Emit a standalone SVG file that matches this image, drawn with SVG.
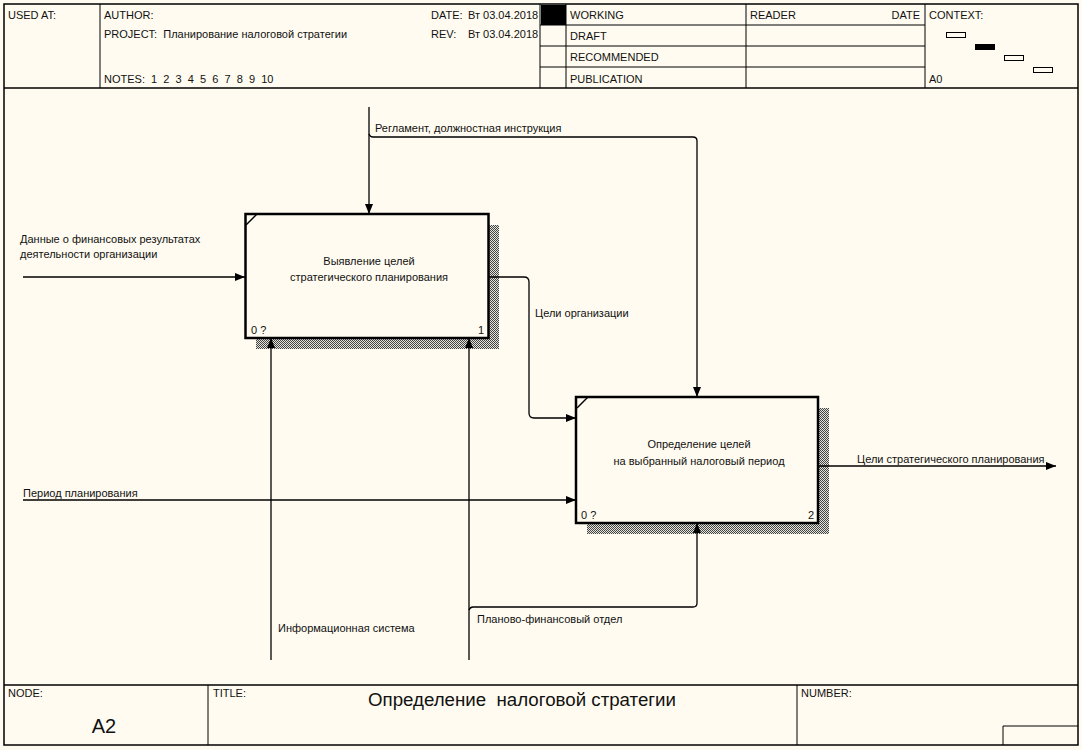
<svg xmlns="http://www.w3.org/2000/svg" width="1082" height="750" viewBox="0 0 1082 750">
<defs>
<style>
text{font-family:"Liberation Sans",Arial,sans-serif;font-size:11px;fill:#111}
.ft{font-size:11px}
.fr{fill:none;stroke:#000;stroke-width:1}
.box{fill:#fffbf0;stroke:#000;stroke-width:2.5}
.sh{fill:url(#hatch)}
.ar{fill:none;stroke:#000;stroke-width:1.3}
.ctx{fill:none;stroke:#000;stroke-width:1}
</style>
<pattern id="hatch" width="2" height="2" patternUnits="userSpaceOnUse">
<rect width="2" height="2" fill="#e4e4dc"/>
<rect x="0" y="0" width="1" height="1" fill="#444"/>
<rect x="1" y="1" width="1" height="1" fill="#444"/>
</pattern>
<marker id="ah" viewBox="0 0 10 8" refX="10" refY="4" markerWidth="10" markerHeight="8" markerUnits="userSpaceOnUse" orient="auto">
<path d="M0,0 L10,4 L0,8 Z" fill="#000"/>
</marker>
</defs>
<rect x="0" y="0" width="1082" height="750" fill="#fffbf0"/>

<g id="frame">
<rect x="4" y="4" width="1074" height="741" fill="none" stroke="#000" stroke-width="1.5"/>
<line x1="4" y1="88" x2="1078" y2="88" stroke="#000" stroke-width="1.5"/>
<line x1="4" y1="685" x2="1078" y2="685" stroke="#000" stroke-width="1.5"/>
</g>

<g id="header">
<line class="fr" x1="100" y1="4" x2="100" y2="88"/>
<line class="fr" x1="540" y1="4" x2="540" y2="88"/>
<line class="fr" x1="566" y1="4" x2="566" y2="88"/>
<line class="fr" x1="746" y1="4" x2="746" y2="88"/>
<line class="fr" x1="925" y1="4" x2="925" y2="88"/>
<line class="fr" x1="540" y1="25" x2="925" y2="25"/>
<line class="fr" x1="540" y1="46" x2="925" y2="46"/>
<line class="fr" x1="540" y1="67" x2="925" y2="67"/>
<rect x="541" y="5" width="25" height="20" fill="#000"/>
<text x="8" y="19">USED AT:</text>
<text x="104" y="19">AUTHOR:</text>
<text x="104" y="38" xml:space="preserve">PROJECT:  Планирование налоговой стратегии</text>
<text x="104" y="83" xml:space="preserve">NOTES:  1  2  3  4  5  6  7  8  9  10</text>
<text x="431" y="19">DATE:</text>
<text x="468" y="19">Вт 03.04.2018</text>
<text x="431" y="38">REV:</text>
<text x="468" y="38">Вт 03.04.2018</text>
<text x="570" y="19">WORKING</text>
<text x="570" y="40">DRAFT</text>
<text x="570" y="61">RECOMMENDED</text>
<text x="570" y="83">PUBLICATION</text>
<text x="750" y="19">READER</text>
<text x="920" y="19" text-anchor="end">DATE</text>
<text x="929" y="19">CONTEXT:</text>
<text x="929" y="83">A0</text>
<rect class="ctx" x="946.5" y="32.5" width="19" height="5"/>
<rect x="975" y="44" width="20" height="6" fill="#000"/>
<rect class="ctx" x="1004.5" y="55.5" width="19" height="5"/>
<rect class="ctx" x="1033.5" y="67.5" width="19" height="5"/>
</g>

<g id="footer">
<line class="fr" x1="208" y1="685" x2="208" y2="745"/>
<line class="fr" x1="797" y1="685" x2="797" y2="745"/>
<polyline class="fr" points="1003,745 1003,726 1078,726"/>
<text class="ft" x="8" y="697">NODE:</text>
<text class="ft" x="213" y="697">TITLE:</text>
<text class="ft" x="801" y="697">NUMBER:</text>
<text x="104" y="733" text-anchor="middle" style="font-size:20px">A2</text>
<text x="522" y="706" text-anchor="middle" style="font-size:18.7px" xml:space="preserve">Определение  налоговой стратегии</text>
</g>

<g id="node-1">
<rect class="sh" x="256" y="225" width="243" height="124"/>
<rect class="box" x="245.5" y="214" width="243" height="124"/>
<line x1="246" y1="225" x2="257" y2="214" stroke="#000" stroke-width="1.5"/>
<text x="369" y="265" text-anchor="middle">Выявление целей</text>
<text x="369" y="281" text-anchor="middle">стратегического планирования</text>
<text x="251" y="334">0 ?</text>
<text x="484" y="334" text-anchor="end">1</text>
</g>

<g id="node-2">
<rect class="sh" x="587" y="408" width="242" height="126"/>
<rect class="box" x="576" y="397" width="242" height="126"/>
<line x1="577" y1="408" x2="588" y2="397" stroke="#000" stroke-width="1.5"/>
<text x="699" y="448" text-anchor="middle">Определение целей</text>
<text x="699" y="465" text-anchor="middle">на выбранный налоговый период</text>
<text x="581" y="519">0 ?</text>
<text x="814" y="519" text-anchor="end">2</text>
</g>

<g id="connectors">
<g id="c-reglament">
<line class="ar" x1="369" y1="107" x2="369" y2="214" marker-end="url(#ah)"/>
<path class="ar" d="M369,134 Q370,137 373,137 L693,137 Q697,137 697,141 L697,397" marker-end="url(#ah)"/>
<text x="375" y="132">Регламент, должностная инструкция</text>
</g>
<g id="c-data">
<line class="ar" x1="23" y1="277" x2="245" y2="277" marker-end="url(#ah)"/>
<text x="20" y="243">Данные о финансовых результатах</text>
<text x="20" y="258">деятельности организации</text>
</g>
<g id="c-goals-org">
<path class="ar" d="M488,277 L524,277 Q529,277 529,282 L529,413 Q529,418 534,418 L576,418" marker-end="url(#ah)"/>
<text x="535" y="317">Цели организации</text>
</g>
<g id="c-period">
<line class="ar" x1="23" y1="500" x2="576" y2="500" marker-end="url(#ah)"/>
<text x="23" y="497">Период планирования</text>
</g>
<g id="c-output">
<line class="ar" x1="818" y1="466" x2="1056" y2="466" marker-end="url(#ah)"/>
<text x="857" y="463">Цели стратегического планирования</text>
</g>
<g id="c-infosys">
<line class="ar" x1="271" y1="660" x2="271" y2="338" marker-end="url(#ah)"/>
<text x="278" y="632">Информационная система</text>
</g>
<g id="c-dept">
<line class="ar" x1="469" y1="660" x2="469" y2="338" marker-end="url(#ah)"/>
<path class="ar" d="M469,610 Q470,607 473,607 L693,607 Q697,607 697,603 L697,523" marker-end="url(#ah)"/>
<text x="477" y="623">Планово-финансовый отдел</text>
</g>
</g>
</svg>
